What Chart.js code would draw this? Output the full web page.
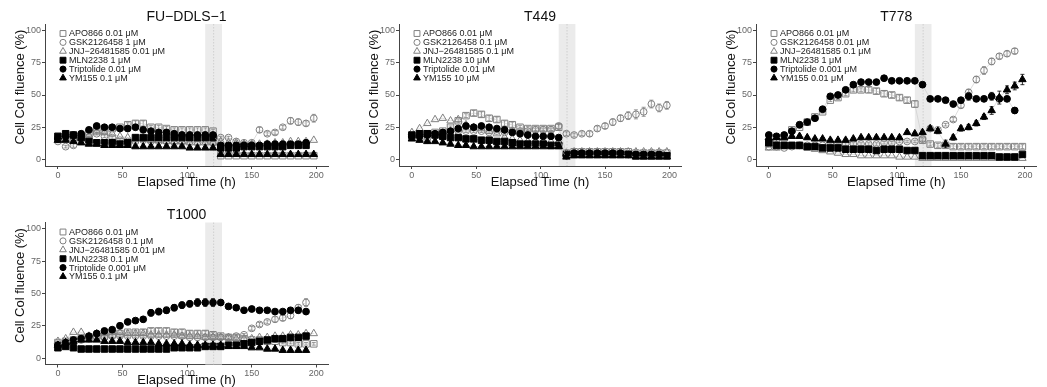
<!DOCTYPE html>
<html>
<head>
<meta charset="utf-8">
<script src="https://cdn.jsdelivr.net/npm/chart.js@4/dist/chart.umd.min.js"></script>
<style>
  body { margin: 0; background: #fff; width: 1047px; height: 387px; position: relative; overflow: hidden; }
  canvas { position: absolute; }
</style>
</head>
<body>
<canvas id="FUGraph"></canvas>
<canvas id="T449Graph"></canvas>
<canvas id="T778Graph"></canvas>
<canvas id="T1000Graph"></canvas>
<script>
// time points (h)
const times = [0,6,12,18,24,30,36,42,48,54,60,66,72,78,84,90,96,102,108,114,120,126,132,138,144,150,156,162,168,174,180,186,192,198];
const xTicks = [0, 50, 100, 150, 200];
const yTicks = [0, 25, 50, 75, 100];
const drugNames = ['APO866', 'GSK2126458', 'JNJ\u221226481585', 'MLN2238', 'Triptolide', 'YM155'];

// medium change window
const bandStart = 114;
const bandEnd = 127;
const bandMid = 120.5;

//FU-DDLS-1
const fuDoses = ['0.01 μM', '1 μM', '0.01 μM', '1 μM', '0.01 μM', '0.1 μM'];
const fuApo = [16,17,17,18,20,22,23,24,25,27,28,28,25,25,24,23,23,23,23,23,22,3,3,3,3,3,3,3,3,3,3,3,3,3];
const fuGsk = [14,10,11,15,17,20,18,17,15,14,14,15,14,14,14,13,13,14,13,14,13,17,17,14,13,13,23,20,21,25,30,29,28,32];
const fuJnj = [15,16,16,17,19,22,21,20,18,17,16,16,15,15,14,14,14,13,13,13,13,14,13,13,12,12,12,12,13,13,14,14,14,15];
const fuMln = [18,20,19,17,14,13,13,13,12,13,17,17,17,17,17,17,17,17,17,17,17,9,9,9,10,10,10,10,10,10,11,11,11];
const fuTrip = [16,18,19,20,23,26,25,25,24,24,25,23,22,21,21,20,19,19,19,19,19,11,11,11,11,11,11,12,12,12,12,12,13];
const fuYm = [15,15,14,13,12,12,11,11,11,11,10,10,10,10,10,10,10,9,9,9,9,4,4,4,4,4,4,4,4,4,4,4,4,4];
const fuApoErr = [1,1,1,1,1,1,1,1,1,1.5,2,2,1.5,1.5,1.5,1.5,1.5,1.5,1.5,1.5,1.5,0.5,0.5,0.5,0.5,0.5,0.5,0.5,0.5,0.5,0.5,0.5,0.5,0.5];
const fuGskErr = [1,1,1.5,1,1,1,1,1,1,1,1,1,1,1,1,1,1,1,1,1,1,1,1,1,1,1,2,1.5,1.5,1.5,2.5,2.5,2,3];

//T449
const t449Doses = ['0.01 μM', '0.1 μM', '0.1 μM', '10 μM', '0.01 μM', '10 μM'];
const t449Apo = [18,19,20,21,22,25,30,34,36,35,32,31,28,27,25,24,24,24,24,25,5,6,6,6,6,6,6,6,6,5,5,5,5,5];
const t449Gsk = [18,16,15,19,20,22,22,22,22,22,21,22,21,22,22,22,23,23,23,26,20,19,20,20,24,26,29,32,34,35,37,43,40,42];
const t449Jnj = [21,24,28,31,32,30,31,27,25,24,22,20,17,16,15,14,14,14,14,14,5,6,6,6,6,6,6,6,6,6,6,6,6,6];
const t449Mln = [19,20,20,19,18,17,17,16,16,15,15,14,14,13,12,12,12,12,11,11,4,4,4,4,4,4,4,4,4,3,3,3,3,3];
const t449Trip = [18,18,19,20,21,22,24,26,25,26,25,24,23,21,20,19,18,18,18,17,3,5,5,5,5,5,5,5,4,4,4,4,4];
const t449Ym = [16,15,14,14,13,12,11,11,10,10,10,10,10,10,10,10,10,10,10,10,2,3,3,3,3,3,3,3,3,2,2,2,2,2];
const t449ApoErr = [1,1,1,1,1,1,1.5,1.5,2,2,2,2,2,2,1.5,1.5,1.5,1.5,1.5,2,0.5,0.5,0.5,0.5,0.5,0.5,0.5,0.5,0.5,0.5,0.5,0.5,0.5,0.5];
const t449GskErr = [1,1,1,1,1,1,1,1,1,1,1,1,1,1,1,1,1,1,1,2,1.5,1.5,1.5,2,2,2,2.5,2.5,3,3.5,3.5,3,3,3];

//T778
const t778Doses = ['0.01 μM', '0.01 μM', '0.1 μM', '1 μM', '0.001 μM', '0.01 μM'];
const t778Apo = [13,15,17,23,25,29,33,37,46,48,51,54,54,54,53,51,50,48,46,43,15,12,11,11,10,10,10,10,10,10,10,10,10,10];
const t778Gsk = [10,10,9,10,11,11,11,11,12,12,12,12,12,12,12,13,13,14,14,14,16,24,23,27,31,42,52,62,69,76,80,82,84];
const t778Jnj = [9,9,10,10,10,9,8,7,6,5,4,4,3,3,3,3,3,2,2,2,1,1,1,1,1,1,1,1,1,1,1,1,1,1];
const t778Mln = [13,11,11,11,11,10,10,9,9,9,8,8,8,8,7,8,8,8,7,7,3,3,3,3,3,3,3,3,3,3,2,2,2,4];
const t778Trip = [19,18,19,22,27,29,32,39,49,50,54,58,60,60,60,63,61,61,61,61,58,47,47,46,43,46,49,47,47,49,47,47,38];
const t778Ym = [17,17,17,18,18,17,16,16,15,15,15,16,17,17,17,17,17,17,21,20,21,24,22,12,17,24,25,28,33,38,48,54,57,62];
const t778ApoErr = [1,1,1,1,1,1,1,1,1,1.5,1.5,1.5,1.5,2,2,2,2,2,2,2.5,1.5,1.5,1.5,1.5,1.5,1.5,1.5,1.5,1.5,1.5,1.5,1.5,1.5,1.5];
const t778GskErr = [0.5,0.5,0.5,0.5,0.5,0.5,0.5,0.5,0.5,0.5,1,1,1,1,1,1,1,1,1,1,1,1,1,1,1.5,2,2.5,2.5,3,2.5,2,2,2];
const t778TripErr = [1,1,1,1,1,1,1,1,1,1,1,1,1,1,1,1,1,1,1,1,1,1,1,1,1.5,2,3,2,2,3,2,2,2];
const t778YmErr = [1,1,1,1,1,1,1,1,1,1,1,1,1,1,1,1,1,1,1,1,1,2,2,3,2,2,2,2,2,3,5,3,3,4];

//T1000
const t1000Doses = ['0.01 μM', '0.1 μM', '0.01 μM', '0.1 μM', '0.001 μM', '0.1 μM'];
const t1000Apo = [12,13,14,15,16,17,17,18,19,20,20,20,21,21,21,20,20,19,19,19,18,17,16,16,15,14,14,13,13,12,12,11,11,11];
const t1000Gsk = [10,11,13,14,15,16,16,17,17,17,17,17,17,17,17,17,17,16,16,16,16,16,16,17,18,23,26,28,30,31,33,39,43];
const t1000Jnj = [13,15,20,20,17,19,19,20,20,19,19,19,18,18,18,18,17,17,17,16,16,16,16,15,15,15,16,16,17,17,18,18,19,19];
const t1000Mln = [8,9,8,7,7,7,7,7,7,7,7,7,7,7,7,8,8,8,8,9,9,9,10,10,11,12,13,14,15,15,16,16,17];
const t1000Trip = [10,12,14,15,17,19,21,22,25,28,29,30,35,36,37,39,41,42,43,43,43,43,40,39,37,38,37,37,36,36,37,37,36];
const t1000Ym = [10,12,13,14,14,14,13,13,13,12,12,12,12,11,11,11,11,10,10,10,10,10,9,9,9,8,8,7,7,6,6,6,6];
const t1000ApoErr = [1,1,1,1,1,1,1,1,1,1.5,1.5,2,2,2,2,2,2,2,2,2,2,1.5,1.5,1.5,1.5,1,1,1,1,1,1,1,1,1];
const t1000GskErr = [1,1,1,1,1,1,1,1,1,1,1,1,1,1,1,1,1,1,1,1,1,1,1,1,1,1.5,1.5,1.5,2,2,2.5,2.5,3];
const t1000TripErr = [1,1,1,1,1,1,1,1,1.5,1.5,1.5,2,2.5,2.5,2.5,2.5,2.5,2.5,3,3,3,2,1.5,1.5,1.5,1.5,1.5,1.5,1.5,1.5,1.5,2,2];

// marker look per drug
const shapes = ['rect', 'circle', 'triangle', 'rect', 'circle', 'triangle'];
const filled = [false, false, false, true, true, true];
const radii = [4.6, 3.4, 4.3, 4.6, 3.4, 4.3];
const openColor = '#808080';
const fontFamily = '"Liberation Sans", Arial, Helvetica, sans-serif';

const panels = [
    { id: 'FUGraph', title: 'FU\u2212DDLS\u22121', doses: fuDoses,
      values: [fuApo, fuGsk, fuJnj, fuMln, fuTrip, fuYm],
      errs: [fuApoErr, fuGskErr, null, null, null, null],
      box: { left: 0, top: 0, width: 340, height: 193, padTop: 24, padRight: 12, xHeight: 27 } },
    { id: 'T449Graph', title: 'T449', doses: t449Doses,
      values: [t449Apo, t449Gsk, t449Jnj, t449Mln, t449Trip, t449Ym],
      errs: [t449ApoErr, t449GskErr, null, null, null, null],
      box: { left: 354, top: 0, width: 339, height: 193, padTop: 24, padRight: 12, xHeight: 27 } },
    { id: 'T778Graph', title: 'T778', doses: t778Doses,
      values: [t778Apo, t778Gsk, t778Jnj, t778Mln, t778Trip, t778Ym],
      errs: [t778ApoErr, t778GskErr, null, null, t778TripErr, t778YmErr],
      box: { left: 711, top: 0, width: 336, height: 193, padTop: 24, padRight: 10.5, xHeight: 27 } },
    { id: 'T1000Graph', title: 'T1000', doses: t1000Doses,
      values: [t1000Apo, t1000Gsk, t1000Jnj, t1000Mln, t1000Trip, t1000Ym],
      errs: [t1000ApoErr, t1000GskErr, null, null, t1000TripErr, null],
      box: { left: 0, top: 195, width: 340, height: 192, padTop: 27.5, padRight: 12, xHeight: 22.5 } }
];

const markerColor = i => filled[i] ? '#000' : openColor;

const drawMarker = (ctx, i, x, y) => {
    ctx.fillStyle = filled[i] ? '#000' : 'rgba(0,0,0,0)';
    ctx.strokeStyle = markerColor(i);
    ctx.lineWidth = 1;
    Chart.helpers.drawPoint(ctx, { pointStyle: shapes[i], rotation: 0, radius: radii[i] * 0.9, borderWidth: 1 }, x, y);
};

const panelDecor = {
    id: 'panelDecor',
    beforeDatasetsDraw(chart) {
        const { ctx, chartArea: a, scales: { x, y } } = chart;
        ctx.save();
        const x0 = x.getPixelForValue(bandStart);
        const x1 = x.getPixelForValue(bandEnd);
        ctx.fillStyle = '#ebebeb';
        ctx.fillRect(x0, a.top, x1 - x0, a.bottom - a.top);
        const xm = x.getPixelForValue(bandMid);
        ctx.strokeStyle = '#c8c8c8';
        ctx.lineWidth = 0.8;
        ctx.setLineDash([1.5, 1.5]);
        ctx.beginPath();
        ctx.moveTo(xm, a.top);
        ctx.lineTo(xm, a.bottom);
        ctx.stroke();
        ctx.setLineDash([]);
        // error bars
        chart.data.datasets.forEach((ds, i) => {
            if (!ds.err) return;
            ctx.strokeStyle = markerColor(i);
            ctx.lineWidth = 0.8;
            ds.data.forEach((p, j) => {
                const e = ds.err[j];
                if (!e || p.y == null) return;
                const px = x.getPixelForValue(p.x);
                const yt = y.getPixelForValue(p.y + e);
                const yb = y.getPixelForValue(p.y - e);
                ctx.beginPath();
                ctx.moveTo(px, yt); ctx.lineTo(px, yb);
                ctx.moveTo(px - 2, yt); ctx.lineTo(px + 2, yt);
                ctx.moveTo(px - 2, yb); ctx.lineTo(px + 2, yb);
                ctx.stroke();
            });
        });
        ctx.restore();
    },
    afterDraw(chart) {
        const { ctx, chartArea: a } = chart;
        const opts = chart.options.plugins.panelDecor;
        ctx.save();
        // title
        ctx.fillStyle = '#111';
        ctx.textAlign = 'center';
        ctx.textBaseline = 'middle';
        ctx.font = '14px ' + fontFamily;
        ctx.fillText(opts.title, (a.left + a.right) / 2, a.top - 7);
        // axis titles
        ctx.font = '13px ' + fontFamily;
        ctx.fillText('Elapsed Time (h)', (a.left + a.right) / 2, a.bottom + 16);
        ctx.save();
        ctx.translate(20, a.top + 63);
        ctx.rotate(-Math.PI / 2);
        ctx.fillText('Cell Col fluence (%)', 0, 0);
        ctx.restore();
        // legend
        ctx.textAlign = 'left';
        ctx.font = '9px ' + fontFamily;
        chart.data.datasets.forEach((ds, i) => {
            const ly = a.top + 9.5 + i * 8.9;
            drawMarker(ctx, i, a.left + 18, ly);
            ctx.fillStyle = '#222';
            ctx.fillText(ds.label, a.left + 24, ly + 0.5);
        });
        ctx.restore();
    }
};

const makeDatasets = panel => panel.values.map((vals, i) => ({
    label: drugNames[i] + ' ' + panel.doses[i],
    data: vals.map((v, j) => ({ x: times[j], y: v })),
    err: panel.errs[i],
    showLine: true,
    borderColor: '#c8c8c8',
    borderWidth: 0.6,
    pointStyle: shapes[i],
    pointRadius: radii[i],
    pointBorderWidth: 1,
    pointBorderColor: markerColor(i),
    pointBackgroundColor: filled[i] ? '#000' : 'rgba(0,0,0,0)',
    order: 5 - i
}));

const axisColor = '#444';
const tickColor = '#666';

panels.forEach(panel => {
    const b = panel.box;
    const canvas = document.getElementById(panel.id);
    canvas.width = b.width;
    canvas.height = b.height;
    canvas.style.left = b.left + 'px';
    canvas.style.top = b.top + 'px';
    new Chart(canvas, {
        type: 'scatter',
        data: { datasets: makeDatasets(panel) },
        options: {
            responsive: false,
            animation: false,
            devicePixelRatio: 1,
            layout: { padding: { top: b.padTop, right: b.padRight, left: 0, bottom: 0 } },
            plugins: {
                legend: { display: false },
                tooltip: { enabled: false },
                panelDecor: { title: panel.title }
            },
            scales: {
                x: {
                    type: 'linear', min: -10, max: 209,
                    afterBuildTicks: s => { s.ticks = xTicks.map(v => ({ value: v })); },
                    afterFit: s => { s.height = b.xHeight; },
                    grid: { drawOnChartArea: false, tickLength: 3, color: axisColor },
                    border: { color: axisColor, width: 1 },
                    ticks: { color: tickColor, font: { size: 9, family: fontFamily }, padding: 1, maxRotation: 0 }
                },
                y: {
                    type: 'linear', min: -5, max: 105,
                    afterBuildTicks: s => { s.ticks = yTicks.map(v => ({ value: v })); },
                    afterFit: s => { s.width = 45; },
                    grid: { drawOnChartArea: false, tickLength: 3, color: axisColor },
                    border: { color: axisColor, width: 1 },
                    ticks: { color: tickColor, font: { size: 9, family: fontFamily }, padding: 1 }
                }
            }
        },
        plugins: [panelDecor]
    });
});
</script>
</body>
</html>
